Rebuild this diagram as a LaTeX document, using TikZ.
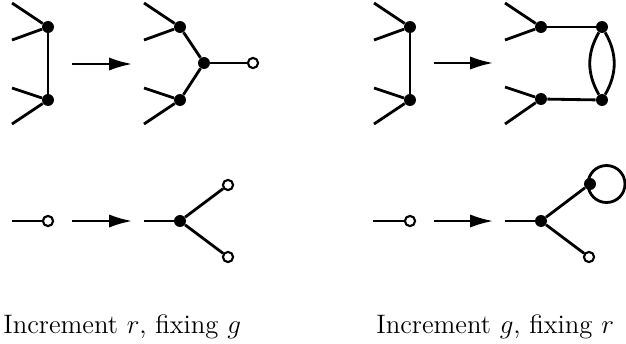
\documentclass[tikz,border=0pt]{standalone}
\usetikzlibrary{arrows.meta}
\tikzset{
  edge/.style={line width=1.6pt},
  mover/.style={line width=1.25pt, -{Latex[length=13pt,width=7.5pt]}},
  fulldot/.style={circle, fill, inner sep=0pt, minimum size=6.8pt},
  opendot/.style={circle, draw, fill=white, line width=1.2pt, inner sep=0pt, minimum size=5.8pt},
  caption/.style={font=\fontsize{14.2}{17}\selectfont, anchor=base west, inner sep=0pt}
}
\begin{document}
\begin{tikzpicture}[x=0.02cm, y=-0.02cm]
  \useasboundingbox (0,0) rectangle (626,343);

  % top left, before
  \node[fulldot] (A) at (48,27) {};
  \node[fulldot] (B) at (48,100) {};
  \coordinate (A1) at (12,3);
  \coordinate (A2) at (12,40);
  \coordinate (B1) at (12,88);
  \coordinate (B2) at (12,124);
  \draw[edge] (A1) -- (A);
  \draw[edge] (A2) -- (A);
  \draw[edge] (B1) -- (B);
  \draw[edge] (B2) -- (B);
  \draw[edge] (A) -- (B);

  \coordinate (ArrowAs) at (72,64);
  \coordinate (ArrowAe) at (132,64);
  \draw[mover] (ArrowAs) -- (ArrowAe);

  % top left, after
  \node[fulldot] (C) at (180,27) {};
  \node[fulldot] (D) at (180,100) {};
  \node[fulldot] (E) at (204,63) {};
  \node[opendot] (F) at (253,63) {};
  \coordinate (C1) at (144,3);
  \coordinate (C2) at (144,40);
  \coordinate (D1) at (144,88);
  \coordinate (D2) at (144,124);
  \draw[edge] (C1) -- (C);
  \draw[edge] (C2) -- (C);
  \draw[edge] (D1) -- (D);
  \draw[edge] (D2) -- (D);
  \draw[edge] (C) -- (E);
  \draw[edge] (D) -- (E);
  \draw[edge] (E) -- (F);

  % top right, before
  \node[fulldot] (G) at (410,27) {};
  \node[fulldot] (H) at (410,100) {};
  \coordinate (G1) at (374,3);
  \coordinate (G2) at (374,40);
  \coordinate (H1) at (374,88);
  \coordinate (H2) at (374,124);
  \draw[edge] (G1) -- (G);
  \draw[edge] (G2) -- (G);
  \draw[edge] (H1) -- (H);
  \draw[edge] (H2) -- (H);
  \draw[edge] (G) -- (H);

  \coordinate (ArrowBs) at (434,63);
  \coordinate (ArrowBe) at (493,63);
  \draw[mover] (ArrowBs) -- (ArrowBe);

  % top right, after
  \node[fulldot] (I) at (541,27) {};
  \node[fulldot] (J) at (541,99) {};
  \node[fulldot] (K) at (602,27) {};
  \node[fulldot] (L) at (602,100) {};
  \coordinate (I1) at (505,3);
  \coordinate (I2) at (505,40);
  \coordinate (J1) at (505,87);
  \coordinate (J2) at (505,124);
  \draw[edge] (I1) -- (I);
  \draw[edge] (I2) -- (I);
  \draw[edge] (J1) -- (J);
  \draw[edge] (J2) -- (J);
  \draw[edge] (I) -- (K);
  \draw[edge] (J) -- (L);
  \draw[edge] (K) to[bend right=30] (L);
  \draw[edge] (K) to[bend left=30] (L);

  % bottom left
  \coordinate (M1) at (12,221);
  \node[opendot] (M) at (48,221) {};
  \draw[edge] (M1) -- (M);

  \coordinate (ArrowCs) at (72,221);
  \coordinate (ArrowCe) at (132,221);
  \draw[mover] (ArrowCs) -- (ArrowCe);

  \coordinate (N1) at (144,221);
  \node[fulldot] (N) at (180,221) {};
  \node[opendot] (O) at (228,185) {};
  \node[opendot] (P) at (228,257) {};
  \draw[edge] (N1) -- (N);
  \draw[edge] (N) -- (O);
  \draw[edge] (N) -- (P);

  % bottom right
  \coordinate (Q1) at (373,221);
  \node[opendot] (Q) at (410,221) {};
  \draw[edge] (Q1) -- (Q);

  \coordinate (ArrowDs) at (434,221);
  \coordinate (ArrowDe) at (493,221);
  \draw[mover] (ArrowDs) -- (ArrowDe);

  \coordinate (R1) at (505,221);
  \node[fulldot] (R) at (541,221) {};
  \node[fulldot] (S) at (590,184) {};
  \node[opendot] (T) at (589,257) {};
  \draw[edge] (R1) -- (R);
  \draw[edge] (R) -- (S);
  \draw[edge] (R) -- (T);
  \draw[edge] (S) ++(16.5,0) circle (18.5);

  % captions
  \node[caption] (CapL) at (3,333) {\scalebox{1.07}{Increment $r$, fixing $g$}};
  \node[caption] (CapR) at (376,333) {\scalebox{1.07}{Increment $g$, fixing $r$}};
\end{tikzpicture}
\end{document}
